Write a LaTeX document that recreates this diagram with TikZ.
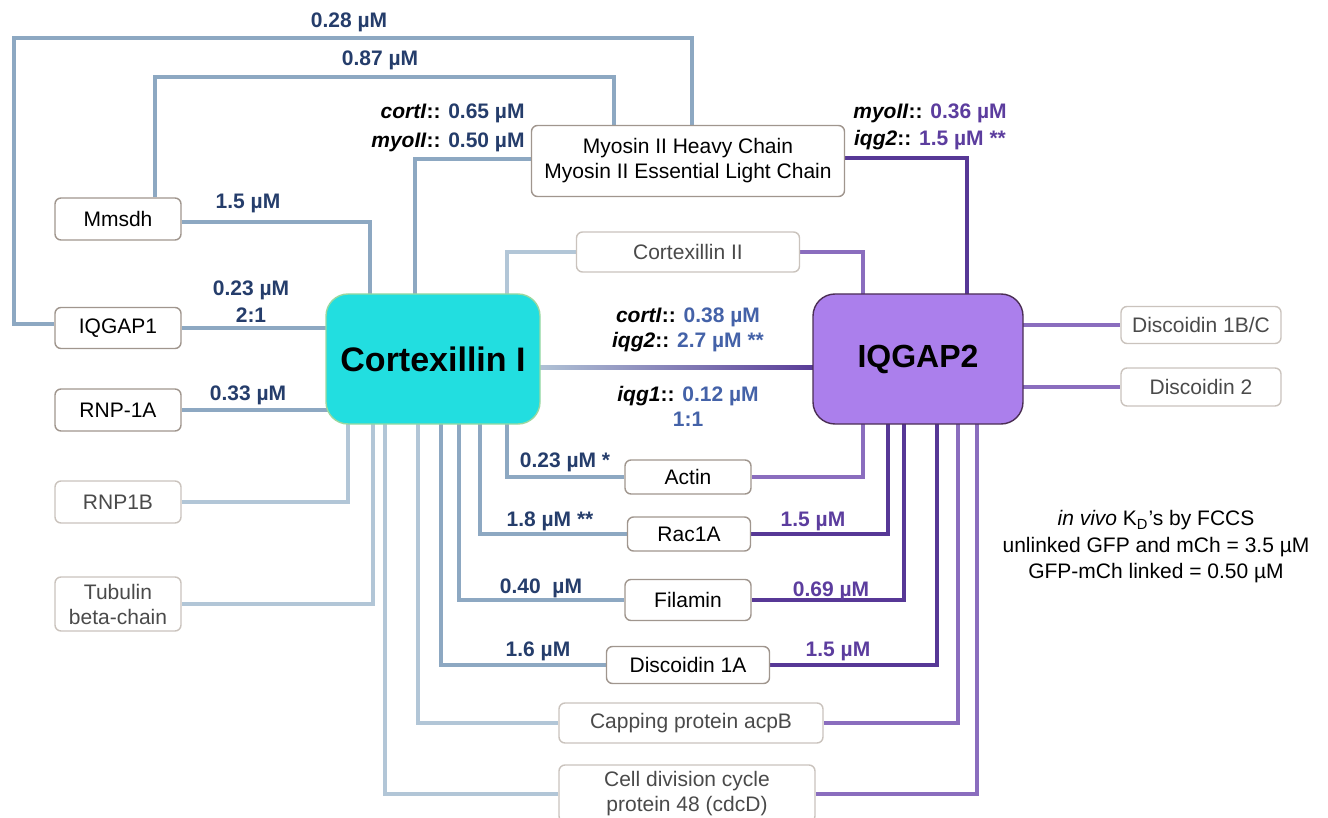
\documentclass[tikz,border=0pt]{standalone}
\usepackage{fontspec}
\setmainfont{Liberation Sans}
\usetikzlibrary{calc,backgrounds}
\definecolor{navy}{HTML}{253D6B}
\definecolor{midblue}{HTML}{4462A8}
\definecolor{purplab}{HTML}{5C3D9E}
\definecolor{cdark}{HTML}{8DA8C2}
\definecolor{clight}{HTML}{B2C6D7}
\definecolor{pdark}{HTML}{573896}
\definecolor{plight}{HTML}{8A6DBE}
\definecolor{cyanfill}{HTML}{22DEE0}
\definecolor{cyanline}{HTML}{9AD8A0}
\definecolor{iqfill}{HTML}{AB7FEC}
\definecolor{iqline}{HTML}{4B2E55}
\definecolor{bdark}{HTML}{A0968E}
\definecolor{blight}{HTML}{CAC3BD}
\definecolor{tgrey}{HTML}{4A4A4A}
\begin{document}
\begin{tikzpicture}[x=0.5pt,y=-0.5pt,
  box/.style={draw=bdark, line width=0.7pt, rounded corners=3pt, fill=white, inner sep=0pt, align=center,
    font=\fontsize{10.5}{12.5}\selectfont},
  lbox/.style={box, draw=blight, text=tgrey},
  hub/.style={rounded corners=11pt, line width=0.7pt, inner sep=0pt, font=\bfseries\fontsize{17}{20}\selectfont},
  cd/.style={draw=cdark, line width=2pt},
  cl/.style={draw=clight, line width=2pt},
  pd/.style={draw=pdark, line width=2pt},
  pl/.style={draw=plight, line width=2pt},
  lab/.style={inner sep=0pt, text=navy, align=center, font=\bfseries\fontsize{10.5}{13.5}\selectfont},
  plab/.style={lab, text=purplab}]
\useasboundingbox (0,0) rectangle (1328,818);

% hubs
\node[hub, fill=cyanfill, draw=cyanline, minimum width=107pt, minimum height=65pt] (cort) at (433,359) {Cortexillin I};
\node[hub, fill=iqfill, draw=iqline, minimum width=105pt, minimum height=65pt, font=\bfseries\fontsize{16}{19}\selectfont] (iq2) at (918,359) {IQGAP2};

% boxes
\node[box, minimum width=156.5pt, minimum height=35.5pt] (myo) at (688,161) {Myosin II Heavy Chain\\Myosin II Essential Light Chain};
\node[lbox, minimum width=111.5pt, minimum height=20pt] (cort2) at (688,252) {Cortexillin II};
\node[box, minimum width=63pt, minimum height=21pt] (mmsdh) at (118,219) {Mmsdh};
\node[box, minimum width=63pt, minimum height=20.5pt] (iqgap1) at (118,328) {IQGAP1};
\node[box, minimum width=63pt, minimum height=21pt] (rnp1a) at (118,410) {RNP-1A};
\node[lbox, minimum width=63pt, minimum height=21pt] (rnp1b) at (118,502) {RNP1B};
\node[lbox, minimum width=63pt, minimum height=27pt] (tub) at (118,604) {Tubulin\\beta-chain};
\node[lbox, minimum width=80pt, minimum height=18.5pt] (d1bc) at (1201,325) {Discoidin 1B/C};
\node[lbox, minimum width=80pt, minimum height=19pt] (d2) at (1201,387) {Discoidin 2};
\node[box, minimum width=63pt, minimum height=17pt] (actin) at (688,477) {Actin};
\node[box, minimum width=61.5pt, minimum height=17pt] (rac) at (689,534) {Rac1A};
\node[box, minimum width=63pt, minimum height=20.5pt] (fil) at (688,600) {Filamin};
\node[box, minimum width=81.5pt, minimum height=18.5pt] (d1a) at (688,665) {Discoidin 1A};
\node[lbox, minimum width=132pt, minimum height=20pt] (cap) at (691,723) {Capping protein acpB};
\node[lbox, minimum width=128pt, minimum height=28.5pt] (cell) at (687,793.5) {Cell division cycle\\protein 48 (cdcD)};

\begin{pgfonlayer}{background}
% Cortexillin I side
\draw[cd] ($(iqgap1.west)+(0,-4)$) -| (14,38) -| ($(myo.north)+(4,0)$);
\draw[cd] ($(mmsdh.north)+(37,0)$) |- (614,77) -| ($(myo.north)+(-74,0)$);
\draw[cd] ($(mmsdh.east)+(0,3)$) -| ($(cort.north)+(-63,10)$);
\draw[cd] (iqgap1.east) -- ($(iqgap1.east -| cort.west)+(10,0)$);
\draw[cd] (rnp1a.east) -- ($(rnp1a.east -| cort.west)+(10,0)$);
\draw[cl] (rnp1b.east) -| ($(cort.south)+(-85,-10)$);
\draw[cl] (tub.east) -| ($(cort.south)+(-60,-10)$);
\draw[cl] (cell.west) -| ($(cort.south)+(-48,-10)$);
\draw[cl] (cap.west) -| ($(cort.south)+(-15,-10)$);
\draw[cd] (d1a.west) -| ($(cort.south)+(8,-10)$);
\draw[cd] (fil.west) -| ($(cort.south)+(26,-10)$);
\draw[cd] (rac.west) -| ($(cort.south)+(47,-10)$);
\draw[cd] (actin.west) -| ($(cort.south)+(74,-10)$);
\draw[cd] ($(cort.north)+(-18,10)$) |- ($(myo.west)+(0,-2)$);
\draw[cl] ($(cort.north)+(74,10)$) |- (cort2.west);
% central link
\path[left color=clight, right color=pdark] ($(cort.east)+(-10,6)$) rectangle ($(iq2.west)+(10,10)$);
% IQGAP2 side
\draw[pd] ($(myo.east)+(0,-3)$) -| ($(iq2.north)+(49,10)$);
\draw[pl] (cort2.east) -| ($(iq2.north)+(-55,10)$);
\draw[pl] (actin.east) -| ($(iq2.south)+(-55,-10)$);
\draw[pd] (rac.east) -| ($(iq2.south)+(-30,-10)$);
\draw[pd] (fil.east) -| ($(iq2.south)+(-14,-10)$);
\draw[pd] (d1a.east) -| ($(iq2.south)+(19,-10)$);
\draw[pl] (cap.east) -| ($(iq2.south)+(40,-10)$);
\draw[pl] (cell.east) -| ($(iq2.south)+(59,-10)$);
\draw[pl] ($(iq2.east |- d1bc.west)+(-10,0)$) -- (d1bc.west);
\draw[pl] ($(iq2.east |- d2.west)+(-10,0)$) -- (d2.west);
\end{pgfonlayer}

% labels
\node[lab] (l028) at (349,22) {0.28 µM};
\node[lab] (l087) at (380,60) {0.87 µM};
\node[lab] (l15a) at (248,203) {1.5 µM};
\node[lab] (l023) at (251,302) {0.23 µM\\2:1};
\node[lab] (l033) at (248,395) {0.33 µM};
\node[lab, align=right, anchor=east, font=\bfseries\fontsize{10.5}{14.5}\selectfont] (lmyo) at (525,128)
  {\textcolor{black}{\textit{cortI}::} 0.65 µM\\\textcolor{black}{\textit{myoII}::} 0.50 µM};
\node[plab] (lmyo2) at (930,127)
  {\textcolor{black}{\textit{myoII}::} 0.36 µM\\\textcolor{black}{\textit{iqg2}::} 1.5 µM **};
\node[lab, text=midblue, font=\bfseries\fontsize{10.5}{12.5}\selectfont] (lc1) at (688,330)
  {\textcolor{black}{\textit{cortI}::} 0.38 µM\\\textcolor{black}{\textit{iqg2}::} 2.7 µM **};
\node[lab, text=midblue, font=\bfseries\fontsize{10.5}{12.5}\selectfont] (lc2) at (688,406)
  {\textcolor{black}{\textit{iqg1}::} 0.12 µM\\1:1};
\node[lab] (lact) at (565,462) {0.23 µM *};
\node[lab] (lrac) at (550,521) {1.8 µM **};
\node[lab] (lfil) at (541,588) {0.40 \ µM};
\node[lab] (ld1a) at (538,651) {1.6 µM};
\node[plab] (prac) at (813,521) {1.5 µM};
\node[plab] (pfil) at (831,591) {0.69 µM};
\node[plab] (pd1a) at (838,651) {1.5 µM};
% legend
\node[inner sep=0pt, align=center, font=\fontsize{10.5}{13.25}\selectfont] (legend) at (1156,547)
  {\textit{in vivo} K\textsubscript{D}’s by FCCS\\unlinked GFP and mCh = 3.5 µM\\GFP-mCh linked = 0.50 µM};
\end{tikzpicture}
\end{document}
